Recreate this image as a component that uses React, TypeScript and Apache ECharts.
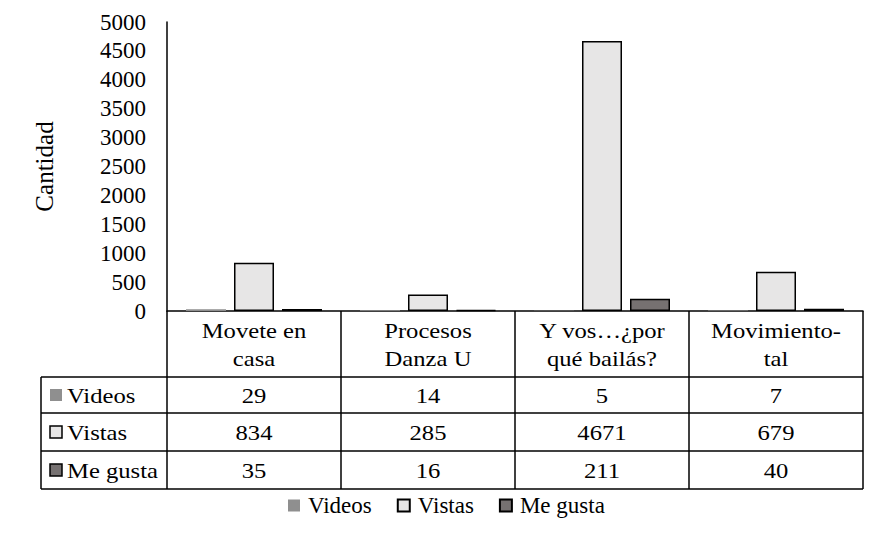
import React, { useEffect, useRef } from "react";
import * as echarts from "echarts";

const categories = ["Movete en\ncasa", "Procesos\nDanza U", "Y vos…¿por\nqué bailás?", "Movimiento-\ntal"];
const seriesNames = ["Videos", "Vistas", "Me gusta"];
const videos = [29, 14, 5, 7];
const vistas = [834, 285, 4671, 679];
const meGusta = [35, 16, 211, 40];
const seriesValues = [videos, vistas, meGusta];
const seriesColors = ["#8f8f8f", "#e7e6e6", "#767171"];
const seriesBorders = ["#8f8f8f", "#000000", "#000000"];

const FONT = "Liberation Serif";
const FS = 23;

export default function App() {
  const ref = useRef<HTMLDivElement>(null);
  useEffect(() => {
    if (!ref.current) return;
    const chart = echarts.init(ref.current, undefined, { renderer: "svg" });
    const gridLeft = 167, gridRight = 8, gridTop = 22, gridBottom = 226;
    chart.setOption({
      animation: false,
      textStyle: { fontFamily: FONT, color: "#000" },
      grid: { left: gridLeft, right: gridRight, top: gridTop, bottom: gridBottom, containLabel: false },
      legend: {
        left: 283,
        top: 489,
        itemWidth: 12,
        itemHeight: 12,
        itemGap: 25,
        icon: "rect",
        textStyle: { fontFamily: FONT, fontSize: FS, color: "#000", padding: [0, 0, 0, 3] },
        data: seriesNames,
      },
      xAxis: {
        type: "category",
        data: categories,
        axisLine: { show: true, lineStyle: { color: "#000", width: 1.5 } },
        axisTick: { show: false },
        axisLabel: { show: false },
      },
      yAxis: {
        type: "value",
        min: 0,
        max: 5000,
        interval: 500,
        name: "Cantidad",
        nameLocation: "middle",
        nameRotate: 90,
        nameGap: 110,
        nameTextStyle: { fontFamily: FONT, fontSize: 25, color: "#000" },
        axisLine: { show: true, lineStyle: { color: "#000", width: 1.5 } },
        axisTick: { show: false },
        splitLine: { show: false },
        axisLabel: { fontFamily: FONT, fontSize: FS, color: "#000", margin: 21, formatter: (v: number) => String(v) },
      },
      series: seriesNames.map((n, i) => ({
        name: n,
        type: "bar",
        data: seriesValues[i],
        barWidth: 40,
        barGap: "20%",
        itemStyle: {
          color: seriesColors[i],
          borderColor: seriesBorders[i],
          borderWidth: i === 0 ? 0 : 1.5,
        },
      })),
    });

    const x0 = chart.convertToPixel({ xAxisIndex: 0 }, 0) as number;
    const x1 = chart.convertToPixel({ xAxisIndex: 0 }, 1) as number;
    const step = x1 - x0;
    const axisY = chart.convertToPixel({ yAxisIndex: 0 }, 0) as number;
    const left = 41;
    const right = x0 - step / 2 + step * categories.length;
    const rowLines = [axisY + 66, axisY + 102, axisY + 140, axisY + 178];
    const tableBottom = rowLines[rowLines.length - 1];
    const ls = { stroke: "#000", lineWidth: 1.5 };
    const g: any[] = [];
    rowLines.forEach((y) => {
      g.push({ type: "line", shape: { x1: left, y1: y, x2: right, y2: y }, style: ls, silent: true });
    });
    g.push({ type: "line", shape: { x1: left, y1: rowLines[0], x2: left, y2: tableBottom }, style: ls });
    for (let i = 0; i <= categories.length; i++) {
      const x = x0 - step / 2 + step * i;
      g.push({ type: "line", shape: { x1: x, y1: axisY, x2: x, y2: tableBottom }, style: ls });
    }
    const txt = (text: string, x: number, y: number, align: string) => ({
      type: "text",
      x,
      y,
      scaleX: 1.12,
      style: { text, fontFamily: FONT, fontSize: 22, fill: "#000", align, verticalAlign: "middle", lineHeight: 28 },
    });
    categories.forEach((c, i) => {
      g.push(txt(c, x0 + step * i, (axisY + rowLines[0]) / 2, "center"));
    });
    seriesNames.forEach((n, r) => {
      const cy = (rowLines[r] + rowLines[r + 1]) / 2;
      g.push({
        type: "rect",
        shape: { x: 50, y: cy - 6, width: 12, height: 12 },
        style: { fill: seriesColors[r], stroke: r === 0 ? seriesColors[r] : "#000", lineWidth: r === 0 ? 0 : 1.5 },
      });
      g.push(txt(n, 67, cy, "left"));
      seriesValues[r].forEach((v, i) => {
        g.push(txt(String(v), x0 + step * i, cy, "center"));
      });
    });
    chart.setOption({ graphic: { elements: g } });
    return () => chart.dispose();
  }, []);
  return <div ref={ref} style={{ position: "absolute", left: 0, top: 0, width: 871, height: 537 }} />;
}
